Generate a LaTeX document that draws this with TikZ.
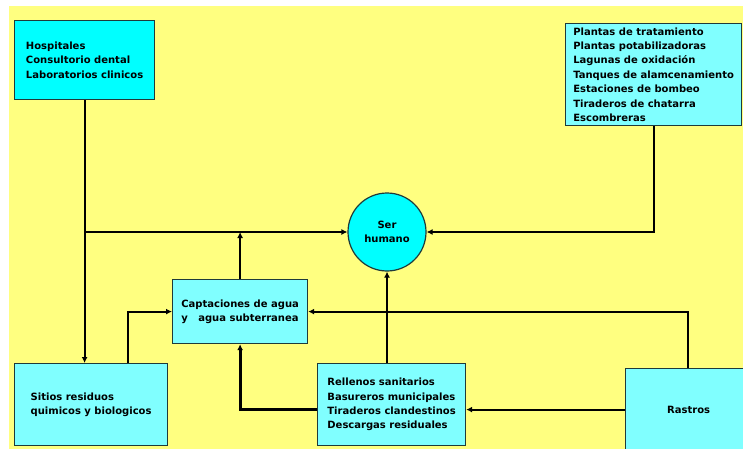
\documentclass[tikz,border=0pt]{standalone}
\usepackage{fontspec}
\setmainfont{DejaVu Sans}
\usepackage{xcolor}
\usetikzlibrary{arrows.meta,positioning,calc}
\definecolor{Paper}{HTML}{FFFF80}
\definecolor{Aqua}{HTML}{00FFFF}
\definecolor{AquaSoft}{HTML}{80FFFF}
\definecolor{Edge}{HTML}{1F3A3A}
\definecolor{Ink}{HTML}{000000}
\tikzset{
  box/.style={draw=Edge,fill=AquaSoft,line width=1.2pt,anchor=north west,inner sep=0pt,align=left,font=\fontsize{10}{14.4}\selectfont\bfseries,text=Ink},
  hotbox/.style={box,fill=Aqua},
  person/.style={draw=Edge,fill=Aqua,line width=1.2pt,circle,minimum size=78pt,inner sep=0pt,align=center,font=\fontsize{10}{14.4}\selectfont\bfseries,text=Ink},
  arr/.style={-{Latex[length=6pt,width=6pt]},draw=Ink,line width=2pt},
  heavyarr/.style={arr,line width=3pt}
}
\begin{document}
\begin{tikzpicture}[x=1pt,y=-1pt]
  \useasboundingbox (0,0) rectangle (743,449);
  \fill[Paper] (9,6) rectangle (743,449);
  \node[hotbox,minimum width=140pt,minimum height=79pt] (hosp) at (14,20) {Hospitales\\Consultorio dental\\Laboratorios clinicos};
  \node[box,minimum width=176pt,minimum height=102pt] (plantas) at (565,23) {Plantas de tratamiento\\Plantas potabilizadoras\\Lagunas de oxidación\\Tanques de alamcenamiento\\Estaciones de bombeo\\Tiraderos de chatarra\\Escombreras};
  \node[person] (ser) at (387,232) {Ser\\humano};
  \node[box,minimum width=135pt,minimum height=64pt] (capt) at (172,279) {Captaciones de agua\\y\ \ \ agua subterranea};
  \node[box,minimum width=153pt,minimum height=82pt] (sitios) at (14,363) {Sitios residuos\\quimicos y biologicos};
  \node[box,minimum width=148pt,minimum height=82pt] (rell) at (317,363) {Rellenos sanitarios\\Basureros municipales\\Tiraderos clandestinos\\Descargas residuales};
  \node[box,minimum width=126pt,minimum height=82pt] (rastros) at (625,368) {Rastros};
  \coordinate (sitiosout) at (128,363);
  \coordinate (rastrosout) at (688,368);
  % towards ser humano
  \draw[arr] (hosp.south) -- (hosp.south |- sitios.north);
  \draw[arr] (hosp.south |- ser.west) -- (ser.west);
  \draw[arr] (plantas.south) |- (ser.east);
  \draw[arr] (capt.north) -- (capt.north |- ser.west);
  \draw[arr] (rell.north -| ser.south) -- (ser.south);
  % towards captaciones
  \draw[arr] (sitiosout) |- (capt.west);
  \draw[arr] (rastrosout) |- (capt.east);
  \draw[heavyarr] (rell.west |- rastros.west) -| (capt.south);
  \draw[arr] (rastros.west) -- (rastros.west -| rell.east);
\end{tikzpicture}
\end{document}
